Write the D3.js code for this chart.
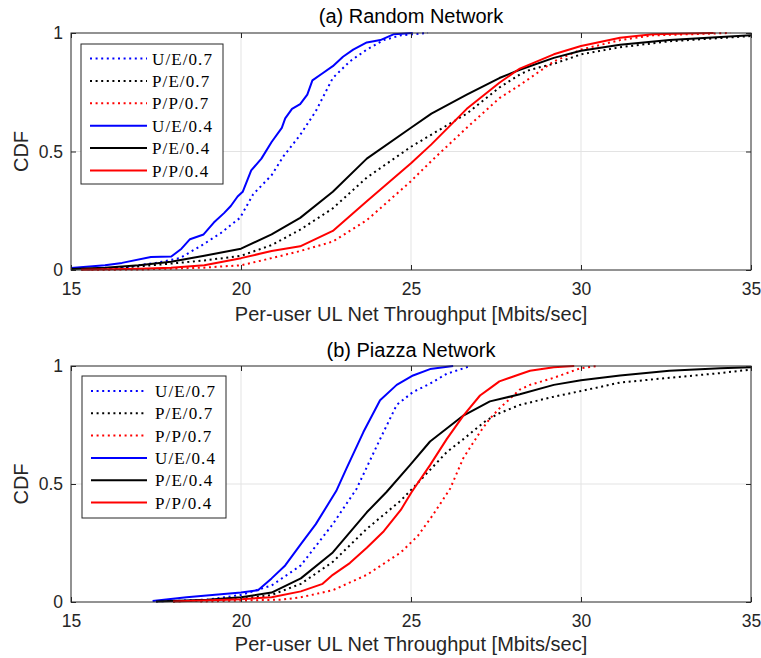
<!DOCTYPE html>
<html><head><meta charset="utf-8">
<script src="https://cdn.jsdelivr.net/npm/d3@7"></script>
<style>body{margin:0;background:#fff}svg{display:block}</style>
</head><body>
<svg id="c" width="761" height="658"></svg>
<script>
const xTicks = [15, 20, 25, 30, 35];
const yTicks = [0, 0.5, 1];
const yTickLabels = ["0", "0.5", "1"];
const seriesNames = ["U/E/0.7", "P/E/0.7", "P/P/0.7", "U/E/0.4", "P/E/0.4", "P/P/0.4"];
const panelTitles = ["(a) Random Network", "(b) Piazza Network"];
const xLabel = "Per-user UL Net Throughput [Mbits/sec]";
const yLabel = "CDF";

// (a) Random Network
const rUE07 = [[15.5,0.003],[16.5,0.01],[17.5,0.03],[18.2,0.05],[18.8,0.1],[19.4,0.155],[19.97,0.22],[20.36,0.32],[20.9,0.4],[21.25,0.48],[21.74,0.57],[22.2,0.67],[22.7,0.81],[23.2,0.88],[23.7,0.93],[24.2,0.97],[24.7,0.99],[25.5,1]];
const rPE07 = [[15.3,0.002],[17,0.015],[18.92,0.04],[20,0.06],[20.9,0.105],[21.74,0.17],[22.7,0.26],[23.7,0.39],[25,0.52],[26.64,0.66],[27.6,0.77],[28.2,0.825],[28.5,0.845],[29.2,0.87],[30,0.91],[31.15,0.94],[32.6,0.965],[35,0.987]];
const rPP07 = [[15.6,0.001],[17,0.002],[18.92,0.01],[20,0.02],[20.9,0.05],[21.74,0.08],[22.7,0.12],[23.7,0.21],[25,0.375],[25.6,0.46],[26.64,0.6],[27.6,0.725],[28.2,0.78],[28.5,0.81],[29.2,0.88],[30,0.93],[31.15,0.97],[32.1,0.99],[34.4,1]];
const rUE04 = [[15,0.008],[16,0.02],[16.5,0.03],[17.35,0.055],[17.95,0.057],[18.25,0.09],[18.5,0.13],[18.9,0.15],[19.2,0.2],[19.5,0.24],[19.7,0.27],[19.9,0.31],[20.05,0.33],[20.3,0.42],[20.6,0.47],[20.9,0.54],[21.2,0.6],[21.3,0.64],[21.5,0.68],[21.74,0.7],[21.95,0.74],[22.1,0.8],[22.4,0.83],[22.7,0.86],[23.0,0.9],[23.3,0.93],[23.7,0.96],[24.1,0.97],[24.5,0.995],[25.05,1]];
const rPE04 = [[15,0.004],[16,0.01],[17,0.02],[17.94,0.035],[18.92,0.06],[20,0.09],[20.9,0.15],[21.74,0.22],[22.7,0.33],[23.7,0.47],[25,0.6],[25.6,0.66],[26.64,0.74],[27.6,0.81],[28.2,0.845],[29.2,0.895],[30,0.925],[31.15,0.95],[32.6,0.97],[35,0.99]];
const rPP04 = [[15.3,0.001],[17,0.005],[17.94,0.01],[18.92,0.02],[20,0.05],[20.9,0.08],[21.74,0.1],[22.7,0.165],[23.7,0.29],[25,0.45],[25.6,0.53],[26.64,0.68],[27.6,0.79],[28.2,0.85],[29.2,0.91],[30,0.945],[31.15,0.98],[32.1,0.995],[33.9,1]];

// (b) Piazza Network
const pUE07 = [[17.5,0.002],[19,0.01],[20,0.03],[20.9,0.07],[21.76,0.155],[22.7,0.33],[23.4,0.48],[24.09,0.69],[24.58,0.835],[25.06,0.89],[25.56,0.925],[26.05,0.967],[26.75,1]];
const pPE07 = [[18,0.002],[20,0.013],[20.9,0.03],[21.76,0.077],[22.7,0.17],[23.7,0.31],[24.7,0.43],[25.17,0.5],[26.05,0.635],[26.54,0.69],[27.22,0.77],[27.6,0.8],[28.2,0.835],[29.2,0.87],[30.2,0.9],[31.15,0.93],[32.6,0.95],[34.1,0.97],[35,0.985]];
const pPP07 = [[18.8,0.002],[21.2,0.01],[21.76,0.02],[22.7,0.05],[23.7,0.115],[24.7,0.21],[25.2,0.28],[25.65,0.37],[26.15,0.48],[26.54,0.61],[27.03,0.72],[27.32,0.777],[27.6,0.82],[28.2,0.9],[28.5,0.92],[29.2,0.95],[29.97,0.99],[30.5,1]];
const pUE04 = [[17.4,0.004],[18.4,0.02],[20,0.04],[20.5,0.05],[20.9,0.1],[21.3,0.155],[21.76,0.245],[22.2,0.33],[22.8,0.47],[23.1,0.565],[23.6,0.72],[24.09,0.855],[24.58,0.92],[25.06,0.96],[25.56,0.987],[26.24,1]];
const pPE04 = [[17.5,0.002],[19,0.01],[20,0.02],[20.9,0.04],[21.76,0.1],[22.7,0.21],[23.7,0.38],[24.28,0.466],[24.97,0.58],[25.56,0.68],[26.54,0.79],[27.32,0.85],[28.2,0.88],[29.2,0.92],[30,0.94],[31.15,0.96],[32.6,0.98],[34.1,0.99],[35,0.995]];
const pPP04 = [[18,0.002],[20,0.012],[20.9,0.02],[21.76,0.045],[22.4,0.077],[22.7,0.115],[23.2,0.165],[23.7,0.23],[24.2,0.3],[24.7,0.39],[25.02,0.466],[25.56,0.58],[26.05,0.69],[26.54,0.79],[27.03,0.875],[27.32,0.905],[27.6,0.935],[28.2,0.965],[28.5,0.98],[29.2,0.995],[29.8,1]];

const seriesColors = ["#0000ff", "#000000", "#ff0000", "#0000ff", "#000000", "#ff0000"];
const seriesDotted = [true, true, true, false, false, false];

const panels = [
  {title: panelTitles[0], data: [rUE07, rPE07, rPP07, rUE04, rPE04, rPP04], top: 33, bottom: 270, xlabOff: 51, titleOff: 10,
   legend: {x: 81, y: 44, w: 142, h: 140, row0: 58.5, step: 22.4, lx0: 90, lx1: 147, tx: 152}},
  {title: panelTitles[1], data: [pUE07, pPE07, pPP07, pUE04, pPE04, pPP04], top: 366, bottom: 602, xlabOff: 49, titleOff: 9,
   legend: {x: 82, y: 376, w: 144, h: 142, row0: 391, step: 22.3, lx0: 91, lx1: 147, tx: 155}}
];

const svg = d3.select("#c");
const left = 71, right = 751;
const axisColor = "#262626";
const sansFont = "'Liberation Sans', Arial, Helvetica, sans-serif";

panels.forEach(p => {
  const x = d3.scaleLinear().domain([15, 35]).range([left, right]);
  const y = d3.scaleLinear().domain([0, 1]).range([p.bottom, p.top]);
  const g = svg.append("g");

  // grid
  g.selectAll(".vg").data(xTicks.slice(1, -1)).enter().append("line")
    .attr("x1", d => x(d)).attr("x2", d => x(d)).attr("y1", p.top).attr("y2", p.bottom)
    .attr("stroke", "#e3e3e3").attr("stroke-width", 1);
  g.selectAll(".hg").data(yTicks.slice(1, -1)).enter().append("line")
    .attr("y1", d => y(d)).attr("y2", d => y(d)).attr("x1", left).attr("x2", right)
    .attr("stroke", "#e3e3e3").attr("stroke-width", 1);

  // curves
  const line = d3.line().x(d => x(d[0])).y(d => y(d[1]));
  p.data.forEach((s, i) => {
    g.append("path").datum(s).attr("d", line).attr("fill", "none")
      .attr("stroke", seriesColors[i]).attr("stroke-width", 2)
      .attr("stroke-dasharray", seriesDotted[i] ? "2,3.6" : null)
      .attr("stroke-linejoin", "round");
  });

  // axes
  const axB = d3.axisBottom(x).tickValues(xTicks).tickSize(-5).tickPadding(12.5).tickFormat(d3.format("d"));
  const axT = d3.axisTop(x).tickValues(xTicks).tickSize(-5).tickFormat("");
  const axL = d3.axisLeft(y).tickValues(yTicks).tickSize(-5).tickPadding(8).tickFormat((d, i) => yTickLabels[i]);
  const axR = d3.axisRight(y).tickValues(yTicks).tickSize(-5).tickFormat("");
  const styleAxis = sel => {
    sel.select(".domain").attr("stroke", axisColor).attr("stroke-width", 1);
    sel.selectAll(".tick line").attr("stroke", axisColor).attr("stroke-width", 1);
    sel.selectAll(".tick text").attr("fill", axisColor).style("font-family", sansFont).style("font-size", "17.5px");
  };
  g.append("g").attr("transform", `translate(0,${p.bottom})`).call(axB).call(styleAxis);
  g.append("g").attr("transform", `translate(0,${p.top})`).call(axT).call(styleAxis);
  g.append("g").attr("transform", `translate(${left},0)`).call(axL).call(styleAxis);
  g.append("g").attr("transform", `translate(${right},0)`).call(axR).call(styleAxis);
  g.selectAll(".domain").attr("d", null);
  g.append("rect").attr("x", left).attr("y", p.top).attr("width", right - left).attr("height", p.bottom - p.top)
    .attr("fill", "none").attr("stroke", axisColor).attr("stroke-width", 1);

  // title & labels
  g.append("text").attr("x", (left + right) / 2).attr("y", p.top - p.titleOff).attr("text-anchor", "middle")
    .style("font-family", sansFont).style("font-size", "20px").attr("fill", "#000").text(p.title);
  g.append("text").attr("x", (left + right) / 2).attr("y", p.bottom + p.xlabOff).attr("text-anchor", "middle")
    .style("font-family", sansFont).style("font-size", "20px").attr("fill", axisColor).text(xLabel);
  g.append("text").attr("transform", `translate(28,${(p.top + p.bottom) / 2}) rotate(-90)`).attr("text-anchor", "middle")
    .style("font-family", sansFont).style("font-size", "20px").attr("fill", axisColor).text(yLabel);

  // legend
  const L = p.legend;
  g.append("rect").attr("x", L.x).attr("y", L.y).attr("width", L.w).attr("height", L.h)
    .attr("fill", "#fff").attr("stroke", axisColor).attr("stroke-width", 1);
  seriesNames.forEach((nm, i) => {
    const yy = L.row0 + i * L.step;
    g.append("line").attr("x1", L.lx0).attr("x2", L.lx1).attr("y1", yy).attr("y2", yy)
      .attr("stroke", seriesColors[i]).attr("stroke-width", 2)
      .attr("stroke-dasharray", seriesDotted[i] ? "2,3.6" : null);
    g.append("text").attr("x", L.tx).attr("y", yy + 6).style("font-family", "'Liberation Serif', 'DejaVu Serif', serif")
      .style("font-size", "17px").style("letter-spacing", "1.1px").attr("fill", "#000").text(nm);
  });
});
</script>
</body></html>
